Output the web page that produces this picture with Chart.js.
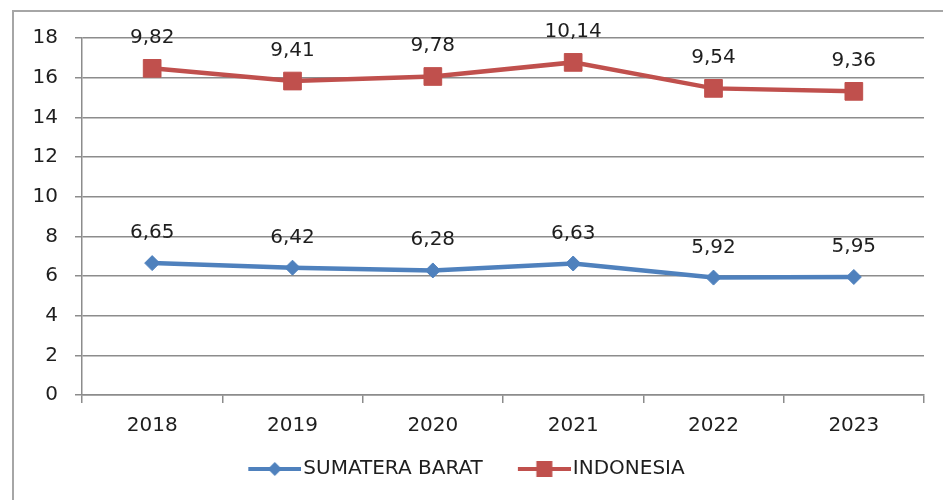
<!DOCTYPE html>
<html>
<head>
<meta charset="utf-8">
<script src="https://cdn.jsdelivr.net/npm/chart.js@4"></script>
<style>
  html, body { margin: 0; padding: 0; background: #ffffff; }
  #wrap { position: relative; width: 943px; height: 500px; overflow: hidden; }
  #frame { position: absolute; left: 12px; top: 10px; width: 960px; height: 520px;
           border-left: 2px solid #a6a6a6; border-top: 2px solid #a6a6a6; box-sizing: border-box; }
  canvas { position: absolute; left: 0; top: 0; }
</style>
</head>
<body>
<div id="wrap">
  <div id="frame"></div>
  <canvas id="c" width="943" height="500"></canvas>
</div>
<script>
const categories = ['2018', '2019', '2020', '2021', '2022', '2023'];
const sumateraBarat = [6.65, 6.42, 6.28, 6.63, 5.92, 5.95];
const indonesia = [9.82, 9.41, 9.78, 10.14, 9.54, 9.36];
const seriesNames = ['SUMATERA BARAT', 'INDONESIA'];
const yTicks = [0, 2, 4, 6, 8, 10, 12, 14, 16, 18];

const BLUE = '#4f81bd';
const RED = '#c0504d';
const FONT = 'DejaVu Sans';
const TEXT = '#1e1e1e';

// legend symbol: transparent left part, then line with marker (line ends right before text)
function legendImage(color, shape) {
  const c = document.createElement('canvas');
  c.width = 86; c.height = 20;
  const g = c.getContext('2d');
  const x0 = 33, x1 = 86, cx = (x0 + x1) / 2;
  g.strokeStyle = color; g.lineWidth = 4;
  g.beginPath(); g.moveTo(x0, 10); g.lineTo(x1, 10); g.stroke();
  g.fillStyle = color;
  if (shape === 'diamond') {
    g.beginPath(); g.moveTo(cx, 3); g.lineTo(cx + 7, 10); g.lineTo(cx, 17); g.lineTo(cx - 7, 10); g.closePath(); g.fill();
  } else {
    g.fillRect(cx - 8, 2, 16, 16);
  }
  return c;
}
const legendImgs = [legendImage(BLUE, 'diamond'), legendImage(RED, 'square')];

const valueLabels = {
  id: 'valueLabels',
  afterLayout(chart) {
    if (chart.legend) { chart.legend.left -= 13; chart.legend.right -= 13; }
  },
  afterDatasetsDraw(chart) {
    const ctx = chart.ctx;
    ctx.save();
    ctx.font = '20px "' + FONT + '"';
    ctx.fillStyle = TEXT;
    ctx.textAlign = 'center';
    ctx.textBaseline = 'alphabetic';
    chart.data.datasets.forEach((ds, i) => {
      const meta = chart.getDatasetMeta(i);
      meta.data.forEach((pt, j) => {
        const v = ds.data[j].toFixed(2).replace('.', ',');
        ctx.fillText(v, pt.x, pt.y - 25);
      });
    });
    ctx.restore();
  }
};

new Chart(document.getElementById('c'), {
  type: 'line',
  data: {
    labels: categories,
    datasets: [
      {
        label: seriesNames[0], data: sumateraBarat,
        borderColor: BLUE, backgroundColor: BLUE, borderWidth: 4.5,
        pointStyle: 'rectRot', pointRadius: 7.5, pointBorderWidth: 1,
        pointBackgroundColor: BLUE, pointBorderColor: BLUE, fill: false, tension: 0
      },
      {
        label: seriesNames[1], data: indonesia,
        borderColor: RED, backgroundColor: RED, borderWidth: 4.5,
        pointStyle: 'rect', pointRadius: 12.5, pointBorderWidth: 1,
        pointBackgroundColor: RED, pointBorderColor: RED, fill: false, tension: 0
      }
    ]
  },
  options: {
    responsive: false,
    devicePixelRatio: 1,
    animation: false,
    layout: { padding: { left: 10, right: 19, top: 38, bottom: 11 } },
    plugins: {
      tooltip: { enabled: false },
      legend: {
        position: 'bottom',
        labels: {
          usePointStyle: true,
          pointStyleWidth: 70,
          padding: 10,
          color: TEXT,
          font: { family: FONT, size: 20 },
          generateLabels(chart) {
            const items = Chart.defaults.plugins.legend.labels.generateLabels(chart);
            items.forEach((it, i) => { it.pointStyle = legendImgs[i]; });
            return items;
          }
        }
      }
    },
    scales: {
      x: {
        offset: true,
        grid: { display: true, drawOnChartArea: false, drawTicks: true, offset: true,
                tickLength: 8, color: '#8c8c8c', lineWidth: 1.5 },
        border: { display: true, color: '#8c8c8c', width: 1.5 },
        ticks: { color: TEXT, font: { family: FONT, size: 20 }, padding: 11,
                 maxRotation: 0, minRotation: 0, autoSkip: false }
      },
      y: {
        stacked: true,
        min: 0, max: 18,
        afterBuildTicks(scale) { scale.ticks = yTicks.map(v => ({ value: v })); },
        grid: { color: '#8c8c8c', lineWidth: 1.5, tickLength: 7, drawTicks: true },
        border: { display: true, color: '#8c8c8c', width: 1.5 },
        ticks: { color: TEXT, font: { family: FONT, size: 20 }, padding: 17 },
        afterFit(scale) { scale.width = 72; }
      }
    }
  },
  plugins: [valueLabels]
});
</script>
</body>
</html>
